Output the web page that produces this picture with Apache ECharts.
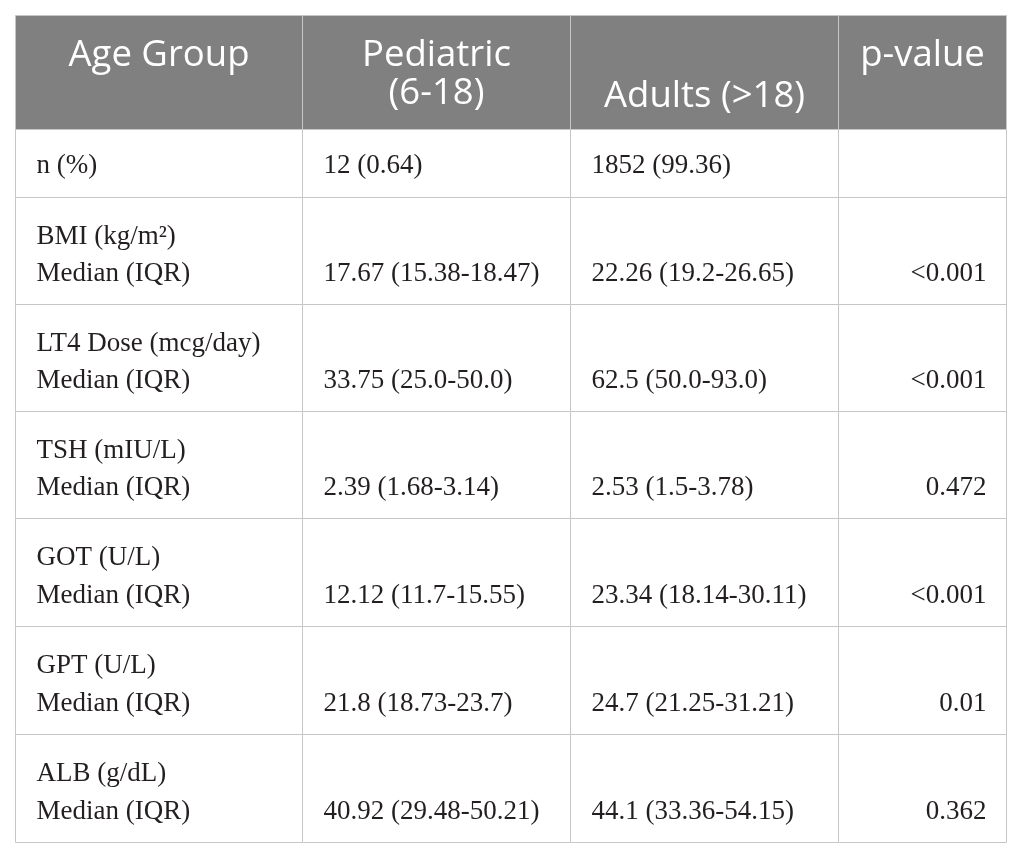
<!DOCTYPE html>
<html>
<head>
<meta charset="utf-8">
<script src="https://cdn.jsdelivr.net/npm/echarts@6/dist/echarts.min.js"></script>
<style>
  html, body { margin: 0; padding: 0; background: #fff; }
  #main { width: 1025px; height: 859px; }
</style>
</head>
<body>
<div id="main"></div>
<script>
// table content
var headers = ['Age Group', 'Pediatric\n(6-18)', 'Adults (>18)', 'p-value'];
var variables = ['n (%)', 'BMI (kg/m²)', 'LT4 Dose (mcg/day)', 'TSH (mIU/L)', 'GOT (U/L)', 'GPT (U/L)', 'ALB (g/dL)'];
var statLabels = ['', 'Median (IQR)', 'Median (IQR)', 'Median (IQR)', 'Median (IQR)', 'Median (IQR)', 'Median (IQR)'];
var pediatric = ['12 (0.64)', '17.67 (15.38-18.47)', '33.75 (25.0-50.0)', '2.39 (1.68-3.14)', '12.12 (11.7-15.55)', '21.8 (18.73-23.7)', '40.92 (29.48-50.21)'];
var adults = ['1852 (99.36)', '22.26 (19.2-26.65)', '62.5 (50.0-93.0)', '2.53 (1.5-3.78)', '23.34 (18.14-30.11)', '24.7 (21.25-31.21)', '44.1 (33.36-54.15)'];
var pValues = ['', '<0.001', '<0.001', '0.472', '<0.001', '0.01', '0.362'];

// layout (sizes in pixels)
var colWidths = [287, 268, 268, 168];
var rowHeights = [114, 68, 107, 107, 107, 108, 108, 108];

function cum(arr) {
  var out = [0];
  for (var i = 0; i < arr.length; i++) out.push(out[i] + arr[i]);
  return out;
}
var colEdges = cum(colWidths);
var rowEdges = cum(rowHeights);

var cells = [];
for (var r = 0; r < rowHeights.length; r++) {
  for (var c = 0; c < colWidths.length; c++) {
    cells.push([colEdges[c], rowEdges[r], c, r]);
  }
}

var headFont = '36.5px "Open Sans"';
var bodyFont = '27px "Liberation Serif"';
var bodyColor = '#231f20';
var headBg = '#808080';
var lineColor = '#c6c6c6';

function bodyText(c, i) {
  if (c === 0) return [variables[i], statLabels[i]];
  if (c === 1) return [pediatric[i]];
  if (c === 2) return [adults[i]];
  return [pValues[i]];
}

function renderCell(params, api) {
  var c = api.value(2), r = api.value(3);
  var p0 = api.coord([colEdges[c], rowEdges[r]]);
  var p1 = api.coord([colEdges[c + 1], rowEdges[r + 1]]);
  var x0 = p0[0], y0 = p0[1], x1 = p1[0], y1 = p1[1];
  var children = [{
    type: 'rect',
    shape: { x: x0, y: y0, width: x1 - x0, height: y1 - y0 },
    style: { fill: r === 0 ? headBg : '#fff', stroke: lineColor, lineWidth: 1 }
  }];
  var cx = (x0 + x1) / 2;
  if (r === 0) {
    var lines = headers[c].split('\n');
    var top = (c === 2) ? y0 + 81 : y0 + 40;
    lines.forEach(function (t, k) {
      children.push({
        type: 'text',
        style: { text: t, x: cx, y: top + k * 38, font: headFont, fill: '#fff', textAlign: 'center', textVerticalAlign: 'middle' }
      });
    });
  } else {
    var i = r - 1;
    var txt = bodyText(c, i);
    var tx = c === 3 ? x1 - 20 : x0 + 21;
    var align = c === 3 ? 'right' : 'left';
    var ys;
    if (i === 0) ys = [(y0 + y1) / 2 + 2];
    else if (txt.length === 2) ys = [y0 + 39, y1 - 31];
    else ys = [y1 - 31];
    txt.forEach(function (t, k) {
      children.push({
        type: 'text',
        style: { text: t, x: tx, y: ys[k], font: bodyFont, fill: bodyColor, textAlign: align, textVerticalAlign: 'middle' }
      });
    });
  }
  return { type: 'group', children: children };
}

var chart = echarts.init(document.getElementById('main'));
var option = {
  backgroundColor: '#fff',
  animation: false,
  grid: { left: 15.5, top: 15.5, width: colEdges[colEdges.length - 1], height: rowEdges[rowEdges.length - 1] },
  xAxis: { type: 'value', min: 0, max: colEdges[colEdges.length - 1], show: false },
  yAxis: { type: 'value', min: 0, max: rowEdges[rowEdges.length - 1], inverse: true, show: false },
  series: [{
    type: 'custom',
    coordinateSystem: 'cartesian2d',
    encode: { x: 0, y: 1 },
    renderItem: renderCell,
    data: cells,
    silent: true
  }]
};
chart.setOption(option);
</script>
</body>
</html>
